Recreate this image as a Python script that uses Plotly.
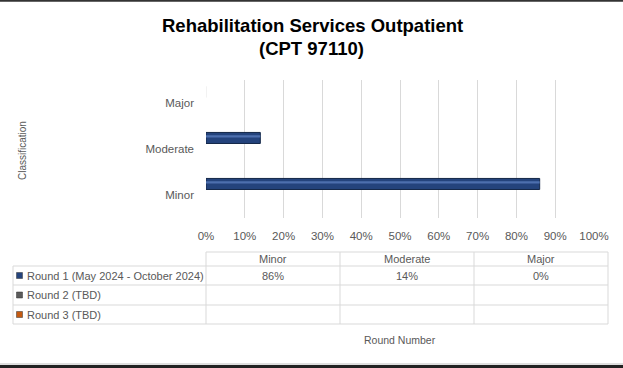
import plotly.graph_objects as go

categories = ["Minor", "Moderate", "Major"]
series_names = ["Round 1 (May 2024 - October 2024)", "Round 2 (TBD)", "Round 3 (TBD)"]
round1 = [86, 14, 0]
round2 = [None, None, None]
round3 = [None, None, None]
series_values = [round1, round2, round3]
series_colors = ["#24437C", "#5A5A5A", "#C55A11"]
x_ticks = [0, 10, 20, 30, 40, 50, 60, 70, 80, 90, 100]
x_tick_labels = [f"{v}%" for v in x_ticks]

W, H = 623, 368
L, R, T, B = 206, 594, 80, 218  # plot area in pixels


def px(x):
    return (x - L) / (R - L)


def py(y):
    return (B - y) / (B - T)


FONT = "Liberation Sans"
GRAY = "#595959"
LINE = "#D9D9D9"

fig = go.Figure()

offsets = [0.12, -0.12, -0.36]
for name, vals, col, off in zip(series_names, series_values, series_colors, offsets):
    line_cols = ["#132647" if (v or 0) > 0 else "#EDEDED" for v in vals]
    fig.add_trace(go.Bar(
        y=categories, x=vals, orientation="h", name=name,
        width=0.24, offset=off,
        marker=dict(color=col, line=dict(color=line_cols, width=1)),
        showlegend=False, hoverinfo="skip",
    ))
fig.add_trace(go.Bar(
    y=categories, x=round1, orientation="h", width=0.05, offset=0.25,
    marker=dict(color="#4D6FAE", line=dict(width=0)), showlegend=False, hoverinfo="skip",
))

fig.update_layout(
    width=W, height=H,
    margin=dict(l=L, r=W - R, t=T, b=H - B),
    paper_bgcolor="white", plot_bgcolor="white",
    barmode="overlay",
    font=dict(family=FONT, size=11, color=GRAY),
    xaxis=dict(range=[0, 100], tickvals=x_ticks, ticktext=x_tick_labels,
               showgrid=True, gridcolor=LINE, gridwidth=1, zeroline=False,
               showline=False, ticks="", ticklabelstandoff=9,
               tickfont=dict(size=11.5, color=GRAY)),
    yaxis=dict(type="category", categoryorder="array", categoryarray=categories,
               range=[-0.5, 2.5], showgrid=False, zeroline=False, showline=False,
               ticks="", ticklabelstandoff=11, tickfont=dict(size=11.5, color=GRAY)),
)

shapes = []
ann = []


def text(t, x, y, size, color=GRAY, xanchor="center", angle=0):
    ann.append(dict(text=t, x=px(x), y=py(y), xref="paper", yref="paper",
                    xanchor=xanchor, yanchor="middle", showarrow=False, textangle=angle,
                    font=dict(family=FONT, size=size, color=color)))


text("<b>Rehabilitation Services Outpatient</b>", 312, 25, 18.5, "black")
text("<b>(CPT 97110)</b>", 311, 49, 18.5, "black")
text("Classification", 22, 151, 10, angle=-90)
text("Round Number", 400, 340, 10.5)

cols = [206, 340, 474, 608]
rows = [252, 266, 285, 305, 324]
for c in cols:
    shapes.append(dict(type="line", xref="paper", yref="paper", x0=px(c), x1=px(c),
                       y0=py(rows[0]), y1=py(rows[-1]), line=dict(color=LINE, width=1)))
shapes.append(dict(type="line", xref="paper", yref="paper", x0=px(13), x1=px(13),
                   y0=py(rows[1]), y1=py(rows[-1]), line=dict(color=LINE, width=1)))
shapes.append(dict(type="line", xref="paper", yref="paper", x0=px(206), x1=px(608),
                   y0=py(rows[0]), y1=py(rows[0]), line=dict(color=LINE, width=1)))
for r in rows[1:]:
    shapes.append(dict(type="line", xref="paper", yref="paper", x0=px(13), x1=px(608),
                       y0=py(r), y1=py(r), line=dict(color=LINE, width=1)))

for i, cat in enumerate(categories):
    cx = (cols[i] + cols[i + 1]) / 2
    text(cat, cx, (rows[0] + rows[1]) / 2, 11)
for j, (name, vals, col) in enumerate(zip(series_names, series_values, series_colors)):
    cy = (rows[j + 1] + rows[j + 2]) / 2
    shapes.append(dict(type="rect", xref="paper", yref="paper", x0=px(16.5), x1=px(22.5),
                       y0=py(cy - 3), y1=py(cy + 3), fillcolor=col,
                       line=dict(color="#333333", width=0.5)))
    text(name, 25, cy, 11, xanchor="left")
    for i, v in enumerate(vals):
        if v is None:
            continue
        cx = (cols[i] + cols[i + 1]) / 2
        text(f"{v}%", cx, cy, 11)

shapes.append(dict(type="line", xref="paper", yref="paper", x0=px(0), x1=px(623),
                   y0=py(0.8), y1=py(0.8), line=dict(color="#333333", width=2)))
shapes.append(dict(type="line", xref="paper", yref="paper", x0=px(0), x1=px(623),
                   y0=py(364), y1=py(364), line=dict(color="#BFBFBF", width=1)))
shapes.append(dict(type="line", xref="paper", yref="paper", x0=px(0), x1=px(623),
                   y0=py(366.5), y1=py(366.5), line=dict(color="#222222", width=3)))

fig.update_layout(shapes=shapes, annotations=ann)
fig.write_html("out.html", config={"displayModeBar": False},
               post_script="document.body.style.margin='0';")
